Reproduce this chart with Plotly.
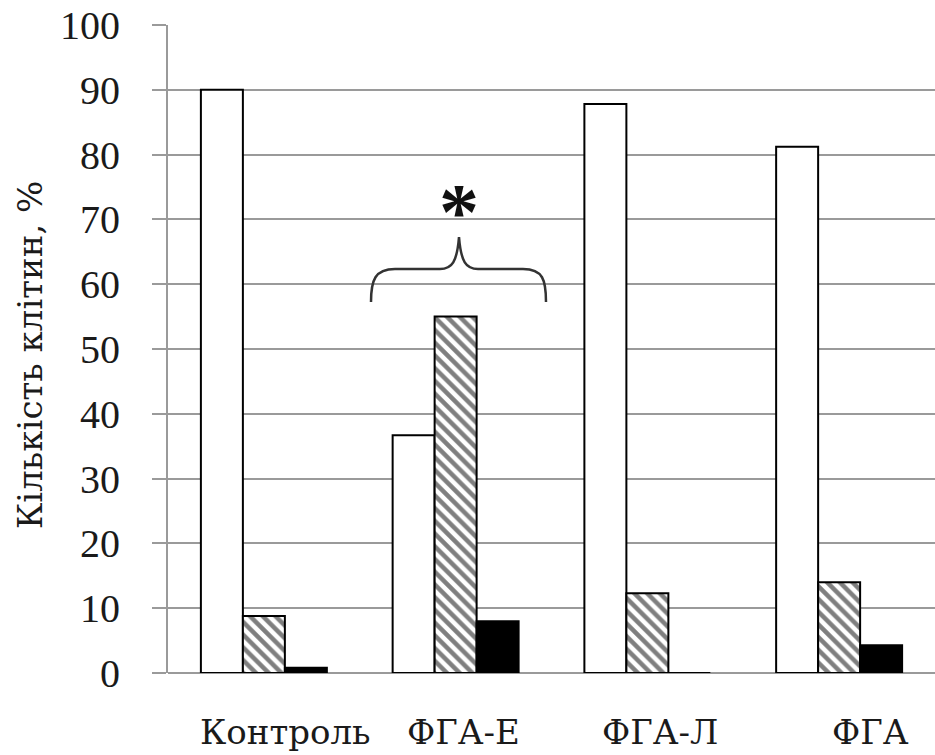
import plotly.graph_objects as go

categories = ["Контроль", "ФГА-Е", "ФГА-Л", "ФГА"]
white_vals = [90.0, 36.7, 87.8, 81.2]
hatched_vals = [8.8, 55.0, 12.3, 14.0]
black_vals = [0.8, 8.0, 0.0, 4.3]
y_ticks = [0, 10, 20, 30, 40, 50, 60, 70, 80, 90, 100]
y_title = "Кількість клітин, %"

W, H = 935, 755
L, R, T, B = 168, 0, 25, 82
PW, PH = W - L - R, H - T - B
FONT = "Liberation Serif"
CYR = "DejaVu Serif"
TXT = "#1a1a1a"

def px_x(p):
    return (p - L) / PW

def px_ydata(p):
    return (H - B - p) / PH * 100

fig = go.Figure()
line = dict(color="black", width=2)
fig.add_trace(go.Bar(x=categories, y=white_vals, marker=dict(color="white", line=line)))
fig.add_trace(go.Bar(x=categories, y=hatched_vals,
                     marker=dict(color="white", line=line,
                                 pattern=dict(shape="\\", fgcolor="black", bgcolor="white",
                                              size=9, solidity=0.5))))
fig.add_trace(go.Bar(x=categories, y=black_vals, marker=dict(color="black", line=line)))

grid = "#9a9a9a"
fig.update_layout(
    width=W, height=H, autosize=False,
    margin=dict(l=L, r=R, t=T, b=B),
    paper_bgcolor="white", plot_bgcolor="white",
    barmode="group", bargap=0.343, bargroupgap=0,
    showlegend=False,
    font=dict(family=FONT, size=40, color=TXT),
)
fig.update_xaxes(showticklabels=False, showgrid=False, showline=False, zeroline=False,
                 ticks="", range=[-0.5, 3.5])
fig.update_yaxes(range=[0, 100], tickvals=y_ticks, ticktext=[str(v) for v in y_ticks],
                 showgrid=True, gridcolor=grid, gridwidth=2,
                 showline=True, linecolor=grid, linewidth=2,
                 zeroline=True, zerolinecolor=grid, zerolinewidth=2,
                 ticks="outside", ticklen=14, tickcolor=grid, tickwidth=2,
                 ticklabelstandoff=24,
                 tickfont=dict(family=FONT, size=40, color=TXT))

# y axis title
fig.add_annotation(text=y_title, textangle=-90, xref="paper", yref="paper",
                   x=px_x(30), y=(H - B - 355) / PH, xanchor="center", yanchor="middle",
                   showarrow=False, font=dict(family=CYR, size=34, color=TXT))

# category labels
label_px = [285, 463, 660, 870]
for c, p in zip(categories, label_px):
    fig.add_annotation(text=c, xref="paper", yref="paper", x=px_x(p), y=-(B - 1) / PH,
                       xanchor="center", yanchor="bottom", showarrow=False,
                       font=dict(family=CYR, size=34, color=TXT))

# brace
pts = [(371, 302), (371, 280), (375, 269), (395, 269), (440, 269), (452, 269), (457, 262), (459, 237),
       (461, 262), (466, 269), (478, 269), (523, 269), (543, 269), (546, 280), (546, 302)]
P = [(px_x(a), px_ydata(b)) for a, b in pts]
f = lambda q: f"{q[0]:.5f},{q[1]:.4f}"
path = (f"M {f(P[0])} C {f(P[1])} {f(P[2])} {f(P[3])} L {f(P[4])} C {f(P[5])} {f(P[6])} {f(P[7])} "
        f"C {f(P[8])} {f(P[9])} {f(P[10])} L {f(P[11])} C {f(P[12])} {f(P[13])} {f(P[14])}")
fig.add_shape(type="path", path=path, xref="paper", yref="y", line=dict(color="#333333", width=2.5))

# asterisk
fig.add_annotation(text="<b>*</b>", xref="paper", yref="y", x=px_x(459), y=px_ydata(212),
                   xanchor="center", yanchor="middle", showarrow=False,
                   font=dict(family=FONT, size=80, color="#111111"))

fig.write_html("out.html")
